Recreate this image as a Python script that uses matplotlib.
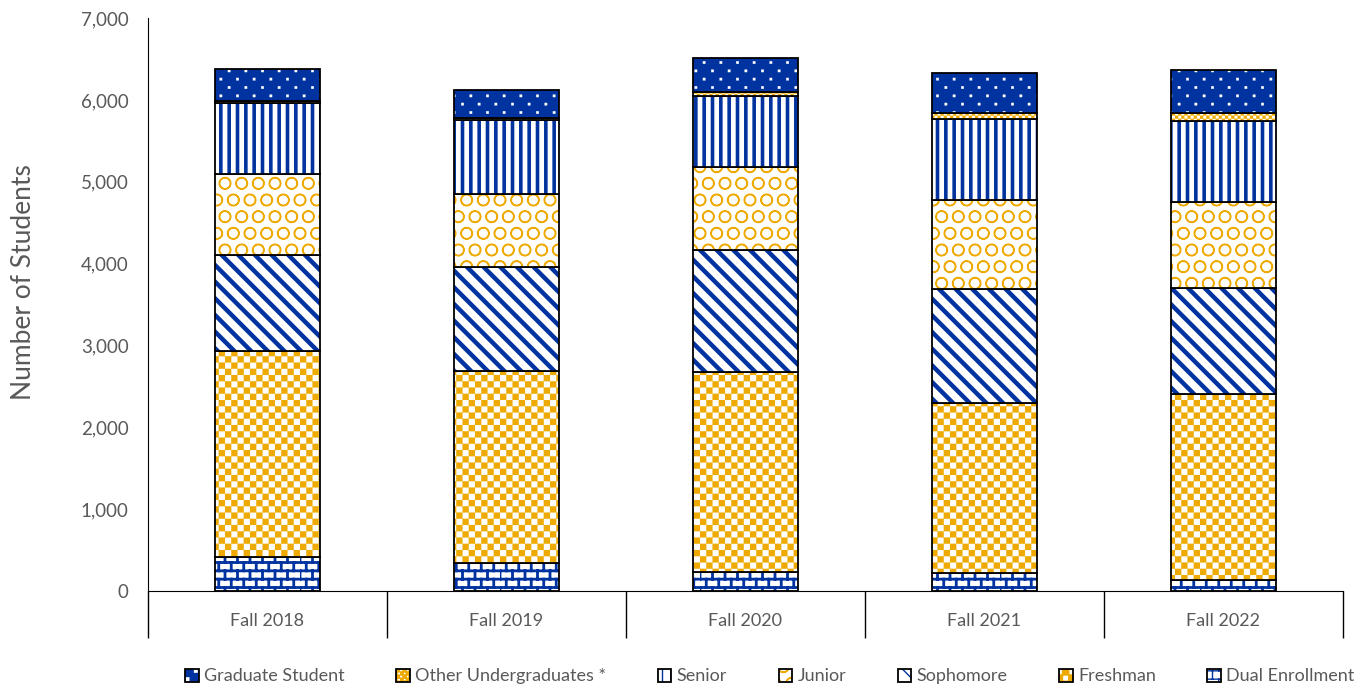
import warnings
import numpy as np
import matplotlib
matplotlib.use("Agg")
import matplotlib.pyplot as plt
import matplotlib.hatch as mhatch
import matplotlib.patches as mpatches
from matplotlib.path import Path

warnings.filterwarnings("ignore")

# data
years = ["Fall 2018", "Fall 2019", "Fall 2020", "Fall 2021", "Fall 2022"]
dual = [420, 346, 236, 224, 134]
freshman = [2515, 2342, 2443, 2069, 2273]
sophomore = [1170, 1274, 1487, 1392, 1298]
junior = [985, 888, 1017, 1091, 1043]
senior = [868, 904, 864, 994, 997]
other = [32, 24, 45, 73, 91]
graduate = [383, 342, 419, 481, 529]

BLUE = "#0033A0"
GOLD = "#EEAA00"
GREY = "#595959"


def squares(centers, size):
    sq = (np.array([[0, 0], [1, 0], [1, 1], [0, 1], [0, 0]]) - 0.5) * size
    verts = np.concatenate([sq + c for c in centers])
    codes = np.tile([Path.MOVETO, Path.LINETO, Path.LINETO,
                     Path.LINETO, Path.CLOSEPOLY], len(centers))
    return verts, codes


# extra hatch patterns: 'c' = checkerboard, 'b' = bricks, 'd' = staggered dots
class CheckerHatch(mhatch.HatchPatternBase):
    def __init__(self, hatch, density):
        self.n = hatch.count("c") * 8
        self.num_vertices = (self.n * self.n // 2) * 5

    def set_vertices_and_codes(self, vertices, codes):
        s = 1.0 / self.n
        centers = [((c + 0.5) * s, (r + 0.5) * s)
                   for r in range(self.n) for c in range(r % 2, self.n, 2)]
        vertices[:], codes[:] = squares(centers, s)


class DotHatch(mhatch.HatchPatternBase):
    def __init__(self, hatch, density):
        self.cols = hatch.count("d") * 6
        self.rows = self.cols * 2
        self.num_vertices = self.rows * self.cols * 5

    def set_vertices_and_codes(self, vertices, codes):
        w = 1.0 / self.cols
        h = 1.0 / self.rows
        centers = [((c + 0.25 + 0.5 * (r % 2)) * w, (r + 0.5) * h)
                   for r in range(self.rows) for c in range(self.cols)]
        vertices[:], codes[:] = squares(centers, 0.026)


class BrickHatch(mhatch.HatchPatternBase):
    def __init__(self, hatch, density):
        self.rows = hatch.count("b") * 12
        self.cols = self.rows * 2 // 3
        self.num_vertices = self.rows * 2 + self.rows * self.cols * 2

    def set_vertices_and_codes(self, vertices, codes):
        h = 1.0 / self.rows
        w = 1.0 / self.cols
        segs = []
        for r in range(self.rows):
            y = r * h + h / 2
            segs.append([[0, y], [1, y]])
            for c in range(self.cols):
                x = c * w + (r % 2) * w / 2
                segs.append([[x, y], [x, y + h]])
        vertices[:] = np.array(segs, dtype=float).reshape(-1, 2)
        codes[:] = np.tile([Path.MOVETO, Path.LINETO], len(segs))


mhatch._hatch_types.extend([CheckerHatch, DotHatch, BrickHatch])

plt.rcParams["font.family"] = ["Lato", "DejaVu Sans"]

# label, values, face colour, hatch colour, hatch, hatch linewidth
series = [
    ("Dual Enrollment", dual, "white", BLUE, "b", 2.0),
    ("Freshman", freshman, "white", GOLD, "cc", 0.1),
    ("Sophomore", sophomore, "white", BLUE, "\\\\", 3.2),
    ("Junior", junior, "white", GOLD, "O", 1.0),
    ("Senior", senior, "white", BLUE, "||", 2.6),
    ("Other Undergraduates *", other, "white", GOLD, "cccc", 0.1),
    ("Graduate Student", graduate, BLUE, "white", "d", 0.1),
]

fig = plt.figure(figsize=(13.7, 6.87), dpi=100)
ax = fig.add_axes([0.108, 0.1397, 0.872, 0.834])

x = np.arange(len(years))
width = 0.44
bottom = np.zeros(len(years))
handles = []
for label, vals, face, hcol, hatch, hlw in series:
    vals = np.array(vals, dtype=float)
    fill = ax.bar(x, vals, width, bottom=bottom, color=face, edgecolor=hcol,
                  hatch=hatch, linewidth=0)
    for p in fill:
        if hasattr(p, "set_hatch_linewidth"):
            p.set_hatch_linewidth(hlw)
    ax.bar(x, vals, width, bottom=bottom, fill=False, edgecolor="black",
           linewidth=1.3)
    bottom += vals
    hp = mpatches.Patch(facecolor=face, edgecolor=hcol, hatch=hatch, linewidth=0)
    if hasattr(hp, "set_hatch_linewidth"):
        hp.set_hatch_linewidth(hlw)
    op = mpatches.Patch(fill=False, edgecolor="black", linewidth=1.3)
    handles.append(((hp, op), label))

ax.set_xlim(-0.5, len(years) - 0.5)
ax.set_ylim(0, 7000)
ax.set_yticks(np.arange(0, 7001, 1000))
ax.set_yticklabels([f"{v:,}" for v in range(0, 7001, 1000)])
ax.set_xticks(x)
ax.set_xticklabels(years)
ax.set_xticks(np.arange(-0.5, len(years)), minor=True)
ax.tick_params(axis="x", which="major", length=0, pad=16, labelsize=13,
               labelcolor=GREY)
ax.tick_params(axis="x", which="minor", length=34, width=1.0, color="black")
ax.tick_params(axis="y", length=0, pad=14, labelsize=13.5, labelcolor=GREY)
ax.set_ylabel("Number of Students", fontsize=19, color=GREY)
ax.yaxis.set_label_coords(-0.094, 0.539)

for s in ["top", "right"]:
    ax.spines[s].set_visible(False)
ax.spines["left"].set_color("black")
ax.spines["bottom"].set_color("black")

handles = handles[::-1]
leg = fig.legend([h for h, _ in handles], [l for _, l in handles],
                 loc="lower center", bbox_to_anchor=(0.562, -0.02), ncol=7,
                 frameon=False, fontsize=13, handlelength=0.75,
                 handleheight=0.75, handletextpad=0.3, columnspacing=2.85,
                 labelcolor=GREY)

fig.savefig("out.png", dpi=100)
